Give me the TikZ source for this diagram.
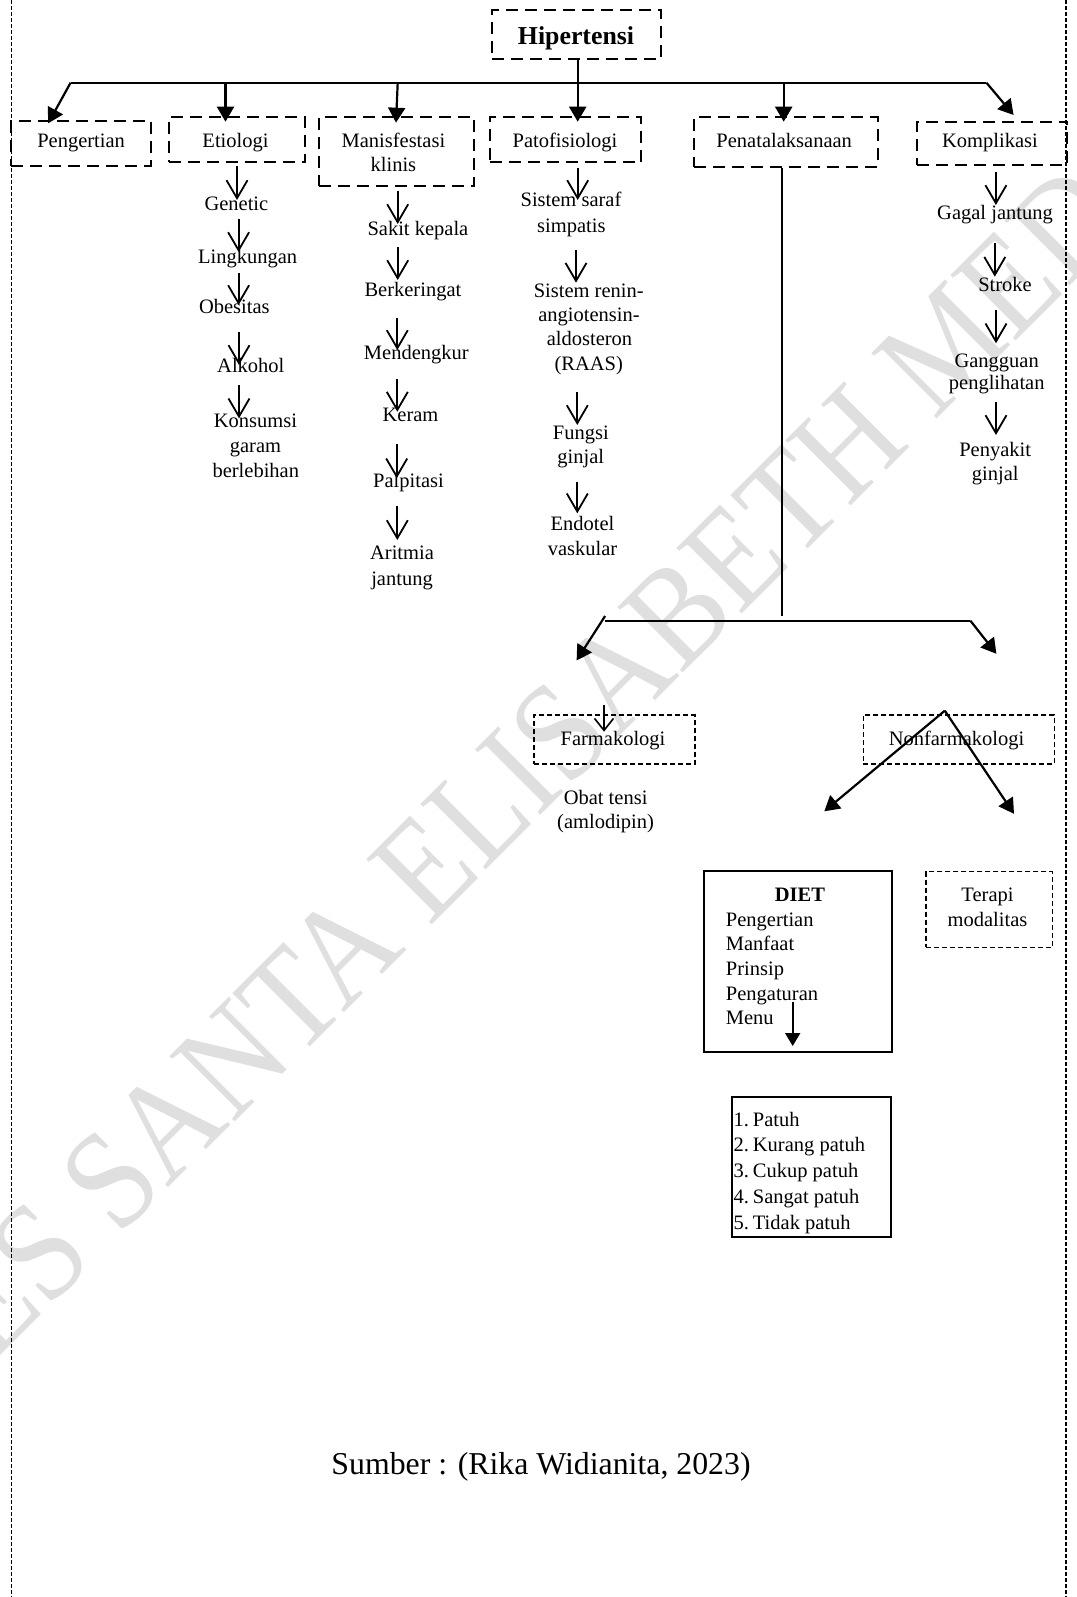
\documentclass[tikz,border=0pt]{standalone}
\usepackage{fontspec}
\setmainfont{Liberation Serif}
\newfontfamily\wmfont[FakeStretch=0.89]{Liberation Serif}
\usetikzlibrary{arrows.meta}
\newcommand\fsbase{\fontsize{20.5}{25}\selectfont}
\newcommand\fship{\fontsize{25.8}{30}\selectfont\bfseries}
\newcommand\fssrc{\fontsize{31.8}{36}\selectfont}
\newcommand\fswm{\wmfont\fontsize{141}{141}\selectfont}
\newcommand\num[1]{\makebox[19.4pt][l]{#1}}
\tikzset{
  bigbox/.style={draw, line width=2pt, dash pattern=on 12pt off 7pt, inner sep=0pt},
  finebox/.style={draw, line width=1.5pt, dash pattern=on 5pt off 3pt, inner sep=0pt},
  solidbox/.style={draw, line width=2pt, inner sep=0pt},
  ln/.style={anchor=base, inner sep=0pt},
  lnw/.style={anchor=base west, inner sep=0pt},
  conn/.style={line width=2pt},
  fatarrow/.style={line width=2.2pt, -{Triangle[width=17pt,length=15pt]}},
  smallfat/.style={line width=2pt, -{Triangle[width=15pt,length=13pt]}},
  varrow/.style={line width=1.8pt, -{Straight Barb[width=21pt,length=18pt]}},
  svarrow/.style={line width=1.6pt, -{Straight Barb[width=19pt,length=12pt]}},
  borderline/.style={line width=1.8pt, dash pattern=on 4pt off 2pt},
  wm/.style={anchor=base, rotate=45, inner sep=0pt, text=gray!25, font=\fswm},
}
\begin{document}
\begin{tikzpicture}[x=1pt,y=-1pt,font=\fsbase]
\useasboundingbox (0,0) rectangle (1076,1597);

% watermark
\begin{scope}
\clip (0,0) rectangle (1076,1597);
\node[wm] (wmtext) at (527.9,828.6) {STIKES SANTA ELISABETH MEDAN};
\end{scope}

% page border
\draw[borderline] (11.5,0) -- (11.5,1597);
\draw[borderline] (1066,0) -- (1066,1597);

% top level boxes
\node[bigbox, minimum width=169pt, minimum height=49pt] (hip) at (576.5,34.5) {};
\node[bigbox, minimum width=139.4pt, minimum height=44.7pt] (peng) at (81.1,143.4) {};
\node[bigbox, minimum width=136.7pt, minimum height=45pt] (etio) at (237,139.8) {};
\node[bigbox, minimum width=155pt, minimum height=69pt] (mani) at (396,151.5) {};
\node[bigbox, minimum width=151.7pt, minimum height=45.3pt] (pato) at (565.5,139.7) {};
\node[bigbox, minimum width=183.2pt, minimum height=49.4pt] (pena) at (785.9,142) {};
\node[bigbox, minimum width=150pt, minimum height=43.3pt] (komp) at (992.2,143.3) {};

\node[ln, font=\fship] (hipt) at (576,45) {Hipertensi};
\node[ln] (pengt) at (81.1,147.5) {Pengertian};
\node[ln] (etiot) at (235.5,147.5) {Etiologi};
\node[ln] (manit1) at (393.4,147.3) {Manisfestasi};
\node[ln] (manit2) at (393.4,171.7) {klinis};
\node[ln] (patot) at (565,147.5) {Patofisiologi};
\node[ln] (penat) at (784.2,147.5) {Penatalaksanaan};
\node[ln] (kompt) at (990,148) {Komplikasi};

% bus from Hipertensi
\coordinate (bL) at (70.6,82.7);
\coordinate (bR) at (986.4,82.7);
\coordinate (pengT) at (48.2,123.3);
\coordinate (etioT) at (225.5,121.7);
\coordinate (maniS) at (397.7,82.7);
\coordinate (maniT) at (396,122.7);
\coordinate (patoT) at (577.7,121.7);
\coordinate (penaT) at (783.7,121.7);
\coordinate (kompT) at (1013.6,115);
\draw[conn] (bL) -- (bR);
\draw[fatarrow] (hip.south -| patoT) -- (patoT);
\draw[fatarrow] (bL) -- (pengT);
\draw[fatarrow] (bL -| etioT) -- (etioT);
\draw[fatarrow] (maniS) -- (maniT);
\draw[fatarrow] (bL -| penaT) -- (penaT);
\draw[fatarrow] (bR) -- (kompT);

% Etiologi column
\node[ln] (gen) at (236.4,210.7) {Genetic};
\node[ln] (ling) at (247.6,263.3) {Lingkungan};
\node[ln] (obes) at (234.3,313.3) {Obesitas};
\node[ln] (alk) at (250.8,372.7) {Alkohol};
\node[ln] (kons1) at (255.5,427.7) {Konsumsi};
\node[ln] (kons2) at (255.5,452.7) {garam};
\node[ln] (kons3) at (255.8,477.7) {berlebihan};
% Manifestasi column
\node[ln] (sak) at (417.9,236) {Sakit kepala};
\node[ln] (berk) at (412.9,296.7) {Berkeringat};
\node[ln] (mend) at (416.3,359) {Mendengkur};
\node[ln] (ker) at (410.5,421.7) {Keram};
\node[ln] (palp) at (408.5,487.7) {Palpitasi};
\node[ln] (arit1) at (402,559.3) {Aritmia};
\node[ln] (arit2) at (402,585) {jantung};
% Patofisiologi column
\node[ln] (sss1) at (571,206.7) {Sistem saraf};
\node[ln] (sss2) at (571.3,232.3) {simpatis};
\node[ln] (raas1) at (588.7,297.3) {Sistem renin-};
\node[ln] (raas2) at (589,321.7) {angiotensin-};
\node[ln] (raas3) at (589.5,345.7) {aldosteron};
\node[ln] (raas4) at (588.8,370.7) {(RAAS)};
\node[ln] (fung1) at (580.8,439) {Fungsi};
\node[ln] (fung2) at (580.8,463.3) {ginjal};
\node[ln] (endo1) at (582.5,530.7) {Endotel};
\node[ln] (endo2) at (582.5,555) {vaskular};
% Komplikasi column
\node[ln] (gag) at (995,220) {Gagal jantung};
\node[ln] (stro) at (1005,291) {Stroke};
\node[ln] (gang1) at (996.7,367.5) {Gangguan};
\node[ln] (gang2) at (996.7,389.5) {penglihatan};
\node[ln] (peny1) at (995.2,456.7) {Penyakit};
\node[ln] (peny2) at (995.2,480.7) {ginjal};

% column arrows
\foreach \n/\x/\ya/\yb in {
  e1/237/166/200, e2/238.6/219/252, e3/238.6/273/305, e4/239/332/365, e5/239/385/418.3,
  m1/397.7/190.7/224, m2/397.7/247.3/280, m3/397.3/318.3/350, m4/397.3/379.3/411.7,
  m5/396.7/444/478.3, m6/397.3/506/540,
  p1/577.7/168.3/200, p2/576/250/282.7, p3/577.3/392.3/425, p4/577.3/481.7/513.3,
  k1/995.9/171.7/205, k2/994.8/243.3/276.7, k3/996/310/343.3, k4/996/401.7/435} {
  \coordinate (s\n) at (\x,\ya);
  \coordinate (t\n) at (\x,\yb);
  \draw[varrow] (s\n) -- (t\n);
}

% Penatalaksanaan branch
\coordinate (pv) at (782.4,616);
\coordinate (b2L) at (605.1,620.7);
\coordinate (b2Ls) at (605.1,616);
\coordinate (b2R) at (970.4,620.7);
\coordinate (farmT) at (576.6,660.4);
\coordinate (nonfT) at (996.4,653.8);
\draw[conn] (pena.south -| pv) -- (pv);
\draw[conn] (b2L) -- (b2R);
\draw[fatarrow] (b2Ls) -- (farmT);
\draw[fatarrow] (b2R) -- (nonfT);

\node[finebox, minimum width=160.6pt, minimum height=49pt] (farm) at (614.5,739.5) {};
\node[finebox, minimum width=191pt, minimum height=49pt] (nonf) at (958.9,739.5) {};
\node[ln] (farmt) at (613,745.7) {Farmakologi};
\node[ln] (nonft) at (956.5,745.7) {Nonfarmakologi};
\node[ln] (obat1) at (605.6,804) {Obat tensi};
\node[ln] (obat2) at (605.6,828.3) {(amlodipin)};

\coordinate (fs) at (604,705);
\coordinate (ft) at (604,731.7);
\draw[svarrow] (fs) -- (ft);

\coordinate (apex) at (944.8,710.7);
\coordinate (dietT) at (824.3,811.3);
\coordinate (teraT) at (1014,813.8);
\draw[fatarrow] (apex) -- (dietT);
\draw[fatarrow] (apex) -- (teraT);

% DIET box
\node[solidbox, minimum width=187.4pt, minimum height=181.6pt] (diet) at (798,961.5) {};
\node[ln, font=\fsbase\bfseries] (diett) at (800,901.7) {DIET};
\node[lnw] (diet1) at (725.7,926) {Pengertian};
\node[lnw] (diet2) at (725.7,950) {Manfaat};
\node[lnw] (diet3) at (725.7,975) {Prinsip};
\node[lnw] (diet4) at (725.7,1000) {Pengaturan};
\node[lnw] (diet5) at (725.7,1024) {Menu};
\coordinate (ds) at (792.7,1001.7);
\coordinate (dt) at (792.7,1046);
\draw[smallfat] (ds) -- (dt);

% Terapi modalitas
\node[finebox, minimum width=126.3pt, minimum height=75.6pt] (tera) at (989.2,909.5) {};
\node[ln] (tera1) at (987.5,901.7) {Terapi};
\node[ln] (tera2) at (987.5,926.7) {modalitas};

% list box
\node[solidbox, minimum width=159pt, minimum height=140.6pt] (lst) at (811.2,1167) {};
\node[lnw] (lst1) at (733.3,1126) {\num{1.}Patuh};
\node[lnw] (lst2) at (733.3,1151.8) {\num{2.}Kurang patuh};
\node[lnw] (lst3) at (733.3,1177.6) {\num{3.}Cukup patuh};
\node[lnw] (lst4) at (733.3,1203.4) {\num{4.}Sangat patuh};
\node[lnw] (lst5) at (733.3,1229.2) {\num{5.}Tidak patuh};

% source
\node[ln, font=\fssrc] (src) at (541,1474) {Sumber : (Rika Widianita, 2023)};
\end{tikzpicture}
\end{document}
